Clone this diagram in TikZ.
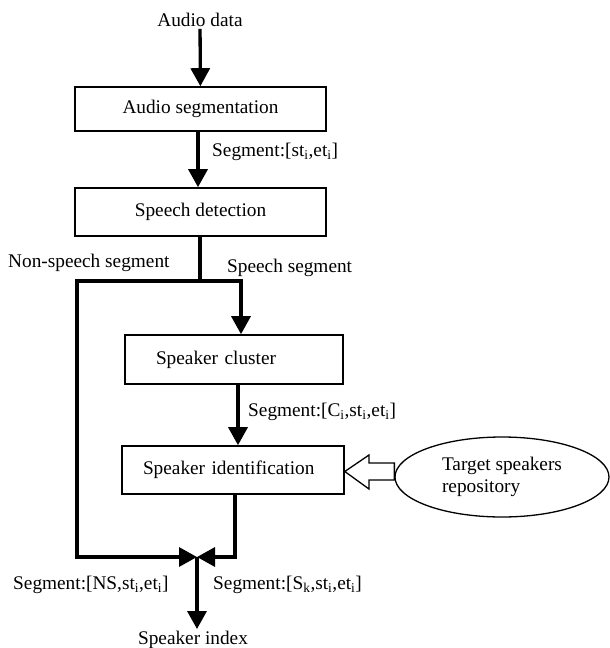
\documentclass[tikz,border=0pt]{standalone}
\usepackage{fontspec}
\setmainfont{Liberation Serif}
\usetikzlibrary{arrows.meta,shapes.geometric,calc}
\newcommand{\sbi}{\textsubscript{i}}
\begin{document}
\begin{tikzpicture}[x=1pt,y=-1pt,
  every node/.style={font=\fontsize{19.3}{23}\selectfont},
  procbox/.style={draw,line width=1.6pt,inner sep=0pt,align=center},
  conn/.style={line width=3.3pt,-{Triangle[length=18pt,width=19pt]}},
  plainline/.style={line width=3.3pt},
  lbl/.style={anchor=west,inner sep=0pt}]
\useasboundingbox (0,0) rectangle (610,648);

\node[inner sep=2pt] (audio) at (200,20) {Audio data};
\node[procbox,minimum width=251pt,minimum height=44pt] (seg) at (200.5,109) {Audio segmentation};
\node[procbox,minimum width=251pt,minimum height=48pt] (det) at (200.5,212) {Speech detection};
\node[procbox,minimum height=49pt,text width=156pt,inner xsep=31pt,align=left] (clu) at (234,359.5) {Speaker cluster};
\node[procbox,minimum height=48pt,text width=180pt,inner xsep=21pt,align=left] (sid) at (233,470) {Speaker identification};
\node[draw,ellipse,line width=1.3pt,minimum width=214pt,minimum height=80pt,inner sep=0pt,align=left,font=\fontsize{19.3}{22}\selectfont] (tsr) at (502,477) {Target speakers\\repository};
\node[inner sep=2pt] (index) at (193,640) {Speaker index};

\coordinate (split) at (200,281);
\coordinate (sp) at (241,281);
\coordinate (mid) at (197,557);

% connectors
\draw[conn] (audio) -- (seg);
\draw[conn] (seg.south -| 198,0) -- (det.north -| 198,0);
\draw[plainline] (det.south -| split) -- (split);
\draw[conn] (split) -- (sp) -- (sp |- clu.north);
\draw[conn] (split) -- (77,281) -- (77,557) -- (mid);
\draw[conn] (clu.south -| 238,0) -- (sid.north -| 238,0);
\draw[conn] (sid.south -| 235,0) -- (235,557) -- (mid);
\draw[conn] (mid) -- (mid |- index.north);

% hollow arrow from repository to identification
\draw[line width=1.3pt,fill=white]
  (tsr.west |- 0,463) -- (369,463) -- (369,455) -- (sid.east |- 0,471.5)
  -- (369,489) -- (369,480) -- (tsr.west |- 0,480) -- cycle;

% labels
\node[lbl] (l1) at (212,152) {Segment:[st\sbi,et\sbi]};
\node[lbl] (l2) at (8,263) {Non-speech segment};
\node[lbl] (l3) at (227,268) {Speech segment};
\node[lbl] (l4) at (248,412) {Segment:[C\sbi,st\sbi,et\sbi]};
\node[lbl] (l5) at (13,585) {Segment:[NS,st\sbi,et\sbi]};
\node[lbl] (l6) at (213,585) {Segment:[S\textsubscript{k},st\sbi,et\sbi]};
\end{tikzpicture}
\end{document}
